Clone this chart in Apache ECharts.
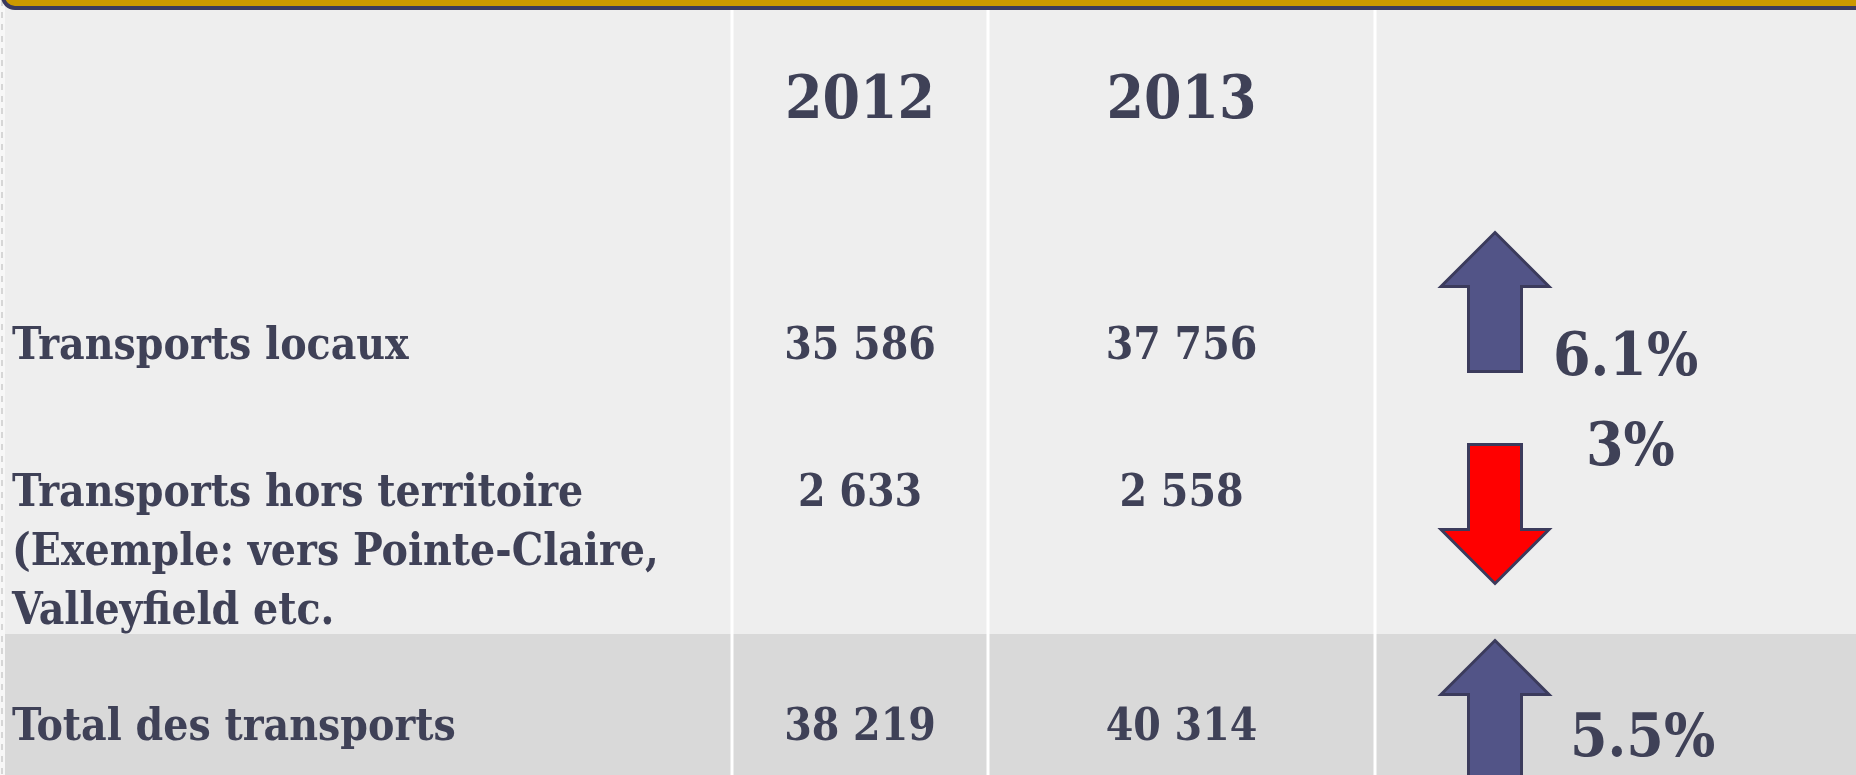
<!DOCTYPE html>
<html>
<head>
<meta charset="utf-8">
<title>Transports 2012 - 2013</title>
<script src="https://cdn.jsdelivr.net/npm/echarts@6/dist/echarts.min.js"></script>
<style>
  html, body { margin: 0; padding: 0; background: #eeeeee; }
  #chart { width: 1856px; height: 775px; }
</style>
</head>
<body>
<div id="chart"></div>
<script>
// données du tableau
var years = ['2012', '2013'];
var rowLabels = [
    'Transports locaux',
    'Transports hors territoire\n(Exemple: vers Pointe-Claire,\nValleyfield etc.',
    'Total des transports'
];
var values2012 = [35586, 2633, 38219];
var values2013 = [37756, 2558, 40314];
var changes = [6.1, -3, 5.5];

// mise en page (pixels)
var W = 1856, H = 775;
var colEdges = [0, 732, 988, 1375, W];
var headerY = 102;
var rowY = [348, 495, 729];
var totalTop = 634;
var lineH = 59;
var arrowX = 1495;
var arrowMidY = [302, 514, 710];
var pctX = [1553, 1586, 1570];
var pctY = [359, 449, 740];

var textColor = '#3f4157';
var bodyFont = 'bold 44px "DejaVu Serif Condensed", "DejaVu Serif", serif';
var bigFont = 'bold 60px "DejaVu Serif Condensed", "DejaVu Serif", serif';

function fmt(n) {
    return String(n).replace(/\B(?=(\d{3})+(?!\d))/g, ' ');
}

// cellules : [colonne, ligne, texte] (ligne -1 = en-tête)
var cells = [];
years.forEach(function (y, i) {
    cells.push([i + 1, -1, y]);
});
rowLabels.forEach(function (label, r) {
    cells.push([0, r, label]);
    cells.push([1, r, fmt(values2012[r])]);
    cells.push([2, r, fmt(values2013[r])]);
});

function renderCell(params, api) {
    var col = api.value(0);
    var row = api.value(1);
    var text = cells[params.dataIndex][2];
    var header = row < 0;
    var cy = header ? headerY : rowY[row];
    if (col === 0) {
        var p = api.coord([12, cy - lineH / 2]);
        return {
            type: 'text',
            style: {
                text: text, x: p[0], y: p[1], font: bodyFont, fill: textColor,
                align: 'left', verticalAlign: 'top', lineHeight: lineH
            }
        };
    }
    var cx = (colEdges[col] + colEdges[col + 1]) / 2;
    var q = api.coord([cx, cy]);
    return {
        type: 'text',
        style: {
            text: text, x: q[0], y: q[1], font: header ? bigFont : bodyFont, fill: textColor,
            align: 'center', verticalAlign: 'middle'
        }
    };
}

function renderArrow(params, api) {
    var i = api.value(0);
    var c = api.value(1);
    var up = c >= 0;
    var ctr = api.coord([arrowX, arrowMidY[i]]);
    var len = 139, hw = 54, sw = 26.5, hh = 54;
    var dir = up ? -1 : 1;
    var tipY = ctr[1] + dir * len / 2;
    var baseY = ctr[1] - dir * len / 2;
    var neckY = tipY - dir * hh;
    var cx = ctr[0];
    var pts = [
        [cx, tipY], [cx + hw, neckY], [cx + sw, neckY], [cx + sw, baseY],
        [cx - sw, baseY], [cx - sw, neckY], [cx - hw, neckY]
    ];
    var lp = api.coord([pctX[i], pctY[i]]);
    return {
        type: 'group',
        children: [
            {
                type: 'polygon',
                shape: { points: pts },
                style: { fill: up ? '#525487' : '#ff0000', stroke: '#3b3b5c', lineWidth: 3 }
            },
            {
                type: 'text',
                style: {
                    text: Math.abs(c) + '%', x: lp[0], y: lp[1], font: bigFont, fill: textColor,
                    align: 'left', verticalAlign: 'middle'
                }
            }
        ]
    };
}

var graphics = [
    { type: 'rect', z: 0, shape: { x: 0, y: totalTop, width: W, height: H - totalTop }, style: { fill: '#d9d9d9' } },
    { type: 'rect', z: 0, shape: { x: 0, y: 0, width: 5, height: H }, style: { fill: '#f7f7f7' } },
    { type: 'line', z: 0, shape: { x1: 2, y1: 0, x2: 2, y2: H }, style: { stroke: '#d6d6d6', lineWidth: 2, lineDash: [6, 6] } },
    { type: 'rect', z: 1, shape: { x: 3, y: -20, width: W + 20, height: 28, r: 12 }, style: { fill: '#cc9900', stroke: '#3b3a5e', lineWidth: 4 } }
];
colEdges.slice(1, 4).forEach(function (x) {
    graphics.push({ type: 'line', z: 0, shape: { x1: x, y1: 10, x2: x, y2: H }, style: { stroke: '#ffffff', lineWidth: 3 } });
});

var chart = echarts.init(document.getElementById('chart'));
chart.setOption({
    backgroundColor: '#eeeeee',
    animation: false,
    grid: { left: 0, right: 0, top: 0, bottom: 0 },
    xAxis: { type: 'value', min: 0, max: W, show: false },
    yAxis: { type: 'value', min: 0, max: H, inverse: true, show: false },
    graphic: graphics,
    series: [
        { type: 'custom', renderItem: renderCell, data: cells.map(function (d) { return [d[0], d[1]]; }), z: 10, silent: true },
        { type: 'custom', renderItem: renderArrow, data: changes.map(function (c, i) { return [i, c]; }), z: 10, silent: true }
    ]
});
</script>
</body>
</html>
